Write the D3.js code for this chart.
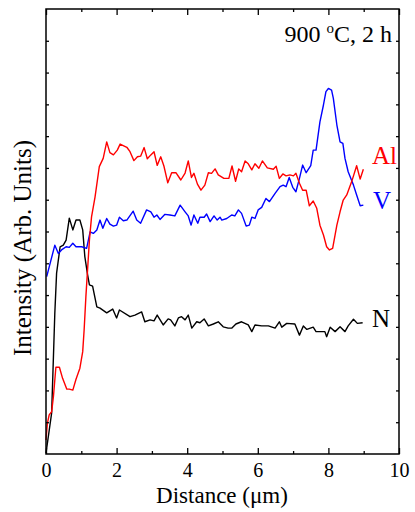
<!DOCTYPE html>
<html>
<head>
<meta charset="utf-8">
<script src="https://cdn.jsdelivr.net/npm/d3@7"></script>
<style>
  html, body { margin: 0; padding: 0; background: #fff; }
  svg { display: block; }
</style>
</head>
<body>
<svg id="chart" width="415" height="512"></svg>
<script>
// Line-scan intensity profiles (distance in µm, intensity in arbitrary units)
const nDist = [0,0.16,0.25,0.30,0.40,0.49,0.57,0.66,0.76,0.85,0.96,1.04,1.10,1.18,1.23,1.32,1.44,1.53,1.72,1.89,2.00,2.08,2.38,2.52,2.71,2.80,2.95,3.06,3.15,3.32,3.46,3.53,3.65,3.75,3.84,3.94,4.03,4.13,4.27,4.36,4.48,4.60,4.74,4.88,5.02,5.16,5.26,5.38,5.54,5.73,5.83,5.92,6.11,6.30,6.49,6.61,6.68,6.82,7.05,7.18,7.29,7.39,7.57,7.65,7.90,7.95,8.05,8.19,8.33,8.47,8.56,8.71,8.82,8.97];
const nInt  = [0.03,1.29,4.44,5.69,6.52,6.57,6.73,7.42,7.05,7.36,7.36,7.05,6.21,5.63,5.32,5.28,4.63,4.59,4.44,4.56,4.28,4.53,4.32,4.37,4.47,4.16,4.22,4.19,4.37,4.06,4.25,4.22,4.03,4.28,4.32,4.22,4.37,3.96,4.16,4.13,4.25,4.03,4.09,4.16,4.00,3.96,3.96,4.09,4.16,4.06,3.85,4.06,4.03,4.03,3.96,4.16,3.99,4.11,4.09,3.74,4.03,3.92,3.99,3.85,3.85,3.69,3.99,3.85,4.00,3.85,4.03,4.24,4.11,4.13];

const vDist = [0.02,0.25,0.35,0.44,0.57,0.66,0.76,0.85,1.01,1.15,1.25,1.34,1.44,1.53,1.61,1.72,1.81,1.91,2.00,2.08,2.19,2.29,2.47,2.57,2.68,2.85,2.97,3.06,3.14,3.23,3.37,3.51,3.65,3.80,3.94,4.03,4.11,4.19,4.30,4.36,4.48,4.55,4.65,4.76,4.85,4.93,4.98,5.12,5.26,5.35,5.45,5.54,5.67,5.76,5.83,5.92,6.01,6.11,6.23,6.33,6.49,6.63,6.72,6.80,6.89,6.99,7.08,7.18,7.27,7.37,7.50,7.57,7.65,7.76,7.86,7.93,8.00,8.09,8.14,8.24,8.33,8.41,8.47,8.56,8.71,8.80,8.90,8.99];
const vInt  = [5.58,6.57,6.31,6.42,6.52,6.50,6.63,6.52,6.52,6.47,6.99,6.94,7.05,7.36,7.10,7.41,7.23,7.17,7.20,7.45,7.34,7.36,7.64,7.36,7.26,7.68,7.62,7.45,7.52,7.38,7.54,7.52,7.49,7.83,7.62,7.49,7.20,7.52,7.26,7.45,7.45,7.55,7.31,7.49,7.36,7.45,7.36,7.41,7.52,7.49,7.68,7.57,7.17,7.20,7.45,7.41,7.68,7.76,8.04,7.94,8.20,8.41,8.46,8.41,8.70,8.39,8.25,8.67,9.09,8.85,9.07,9.56,9.56,10.45,10.98,11.40,11.50,11.45,11.19,10.35,9.82,9.77,9.30,8.88,8.46,8.15,7.81,7.83];

const alDist = [0,0.04,0.09,0.16,0.21,0.28,0.38,0.47,0.59,0.66,0.76,0.85,0.96,1.04,1.08,1.13,1.23,1.29,1.39,1.51,1.62,1.72,1.81,1.91,2.02,2.10,2.29,2.38,2.49,2.59,2.68,2.78,2.87,2.97,3.06,3.15,3.25,3.34,3.45,3.56,3.68,3.82,3.94,4.03,4.12,4.19,4.29,4.39,4.50,4.60,4.69,4.79,4.88,5.04,5.18,5.27,5.37,5.46,5.54,5.64,5.73,5.83,5.92,6.03,6.13,6.27,6.44,6.52,6.61,6.71,6.80,6.91,7.01,7.08,7.18,7.27,7.37,7.46,7.57,7.67,7.76,7.86,7.95,8.03,8.12,8.24,8.33,8.42,8.52,8.66,8.80,8.90,8.99];
const alInt  = [0.44,0.97,1.23,1.33,1.80,2.73,2.73,2.38,2.04,2.04,2.01,2.35,2.70,3.22,3.90,4.95,6.73,7.46,8.09,9.04,9.30,9.82,9.48,9.41,9.56,9.75,9.65,9.51,9.23,9.35,9.37,9.64,9.29,9.41,9.51,9.08,9.35,9.06,8.53,8.85,8.85,8.62,8.84,9.22,8.70,8.83,8.49,8.30,8.46,8.85,8.83,8.97,8.78,8.67,8.67,9.06,8.58,8.97,8.88,9.22,9.13,8.94,9.13,8.99,9.22,9.00,8.96,9.05,8.67,8.81,8.75,8.78,8.75,8.83,8.52,8.30,8.30,7.81,7.96,7.73,7.20,6.89,6.52,6.42,6.47,7.20,7.62,7.99,8.15,8.57,9.07,8.65,8.96];

const xTicks = [0, 2, 4, 6, 8, 10];
const xMinorTicks = [1, 3, 5, 7, 9];
const yTicks = d3.range(1, 14);

const series = [
  { name: "N",  color: "#000000", dist: nDist,  vals: nInt },
  { name: "V",  color: "#0000ff", dist: vDist,  vals: vInt },
  { name: "Al", color: "#ff0000", dist: alDist, vals: alInt }
];

const SERIF = "'Liberation Serif', 'Times New Roman', Tinos, 'DejaVu Serif', serif";

const svg = d3.select("#chart").style("font-family", SERIF);
const plotLeft = 46, plotRight = 399, plotTop = 9, plotBottom = 454;

const x = d3.scaleLinear().domain([0, 10]).range([plotLeft, plotRight]);
const y = d3.scaleLinear().domain([0, 14]).range([plotBottom, plotTop]);

const line = d3.line().x(d => x(d[0])).y(d => y(d[1]));

// Profiles
series.forEach(s => {
  svg.append("path")
    .datum(s.dist.map((d, i) => [d, s.vals[i]]))
    .attr("fill", "none")
    .attr("stroke", s.color)
    .attr("stroke-width", 1.4)
    .attr("stroke-linejoin", "round")
    .attr("d", line);
});

// Axes: ticks point inward on all four sides
function styleAxis(g) {
  g.attr("font-family", null).attr("font-size", null);
  g.select(".domain").remove();
  g.selectAll("line").attr("stroke", "#000").attr("stroke-width", 1.3);
  g.selectAll("text")
    .style("font-family", SERIF)
    .style("font-size", "20px")
    .attr("fill", "#000");
}

svg.append("g").attr("transform", `translate(0,${plotBottom})`)
  .call(d3.axisBottom(x).tickValues(xTicks).tickFormat(d3.format("d")).tickSizeInner(-6).tickSizeOuter(0).tickPadding(9))
  .call(styleAxis);
svg.append("g").attr("transform", `translate(0,${plotBottom})`)
  .call(d3.axisBottom(x).tickValues(xMinorTicks).tickFormat("").tickSizeInner(-3).tickSizeOuter(0))
  .call(styleAxis);
svg.append("g").attr("transform", `translate(0,${plotTop})`)
  .call(d3.axisTop(x).tickValues(xTicks).tickFormat("").tickSizeInner(-6).tickSizeOuter(0))
  .call(styleAxis);
svg.append("g").attr("transform", `translate(0,${plotTop})`)
  .call(d3.axisTop(x).tickValues(xMinorTicks).tickFormat("").tickSizeInner(-3).tickSizeOuter(0))
  .call(styleAxis);
svg.append("g").attr("transform", `translate(${plotLeft},0)`)
  .call(d3.axisLeft(y).tickValues(yTicks).tickFormat("").tickSizeInner(-3).tickSizeOuter(0))
  .call(styleAxis);
svg.append("g").attr("transform", `translate(${plotRight},0)`)
  .call(d3.axisRight(y).tickValues(yTicks).tickFormat("").tickSizeInner(-3).tickSizeOuter(0))
  .call(styleAxis);

// Frame
svg.append("rect")
  .attr("x", plotLeft).attr("y", plotTop)
  .attr("width", plotRight - plotLeft).attr("height", plotBottom - plotTop)
  .attr("fill", "none").attr("stroke", "#000").attr("stroke-width", 1.5);

// Axis titles
svg.append("text")
  .attr("x", 222).attr("y", 503)
  .attr("text-anchor", "middle")
  .style("font-size", "23px")
  .text("Distance (\u03bcm)");

svg.append("text")
  .attr("transform", "translate(31,248) rotate(-90)")
  .attr("text-anchor", "middle")
  .style("font-size", "25px")
  .text("Intensity (Arb. Units)");

// Condition label
const cond = svg.append("text")
  .attr("x", 392).attr("y", 42)
  .attr("text-anchor", "end")
  .style("font-size", "24px");
cond.append("tspan").text("900 ");
cond.append("tspan").style("font-size", "15px").attr("dy", -9).text("o");
cond.append("tspan").attr("dy", 9).text("C, 2 h");

// Element labels
const labels = [
  { text: "Al", color: "#ff0000", x: 372, y: 164 },
  { text: "V",  color: "#0000ff", x: 373, y: 209 },
  { text: "N",  color: "#000000", x: 372, y: 327 }
];
svg.selectAll("text.elem").data(labels).enter().append("text")
  .attr("class", "elem")
  .attr("x", d => d.x).attr("y", d => d.y)
  .style("font-size", "25px")
  .attr("fill", d => d.color)
  .text(d => d.text);
</script>
</body>
</html>
